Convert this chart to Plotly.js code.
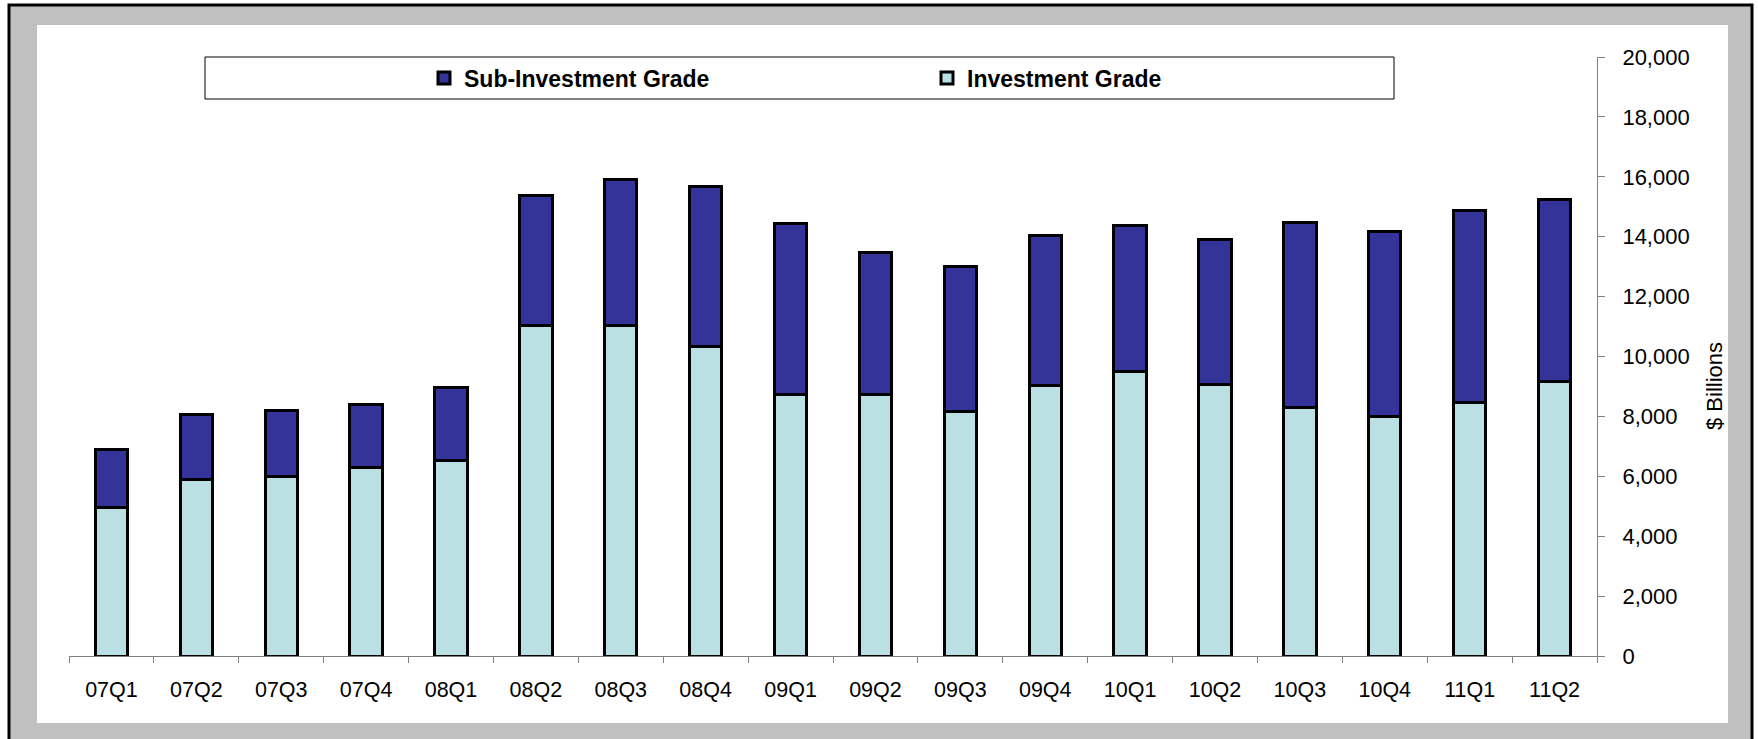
<!DOCTYPE html>
<html>
<head>
<meta charset="utf-8">
<script src="https://cdn.plot.ly/plotly-3.0.1.min.js"></script>
<style>
  html, body { margin: 0; padding: 0; background: #ffffff; }
  #chart { width: 1758px; height: 739px; }
</style>
</head>
<body>
<div id="chart"></div>
<script>
// ---- Data ($ Billions) ----
const quarters = ["07Q1","07Q2","07Q3","07Q4","08Q1","08Q2","08Q3","08Q4","09Q1","09Q2","09Q3","09Q4","10Q1","10Q2","10Q3","10Q4","11Q1","11Q2"];
const investmentGrade = [4970, 5900, 5990, 6290, 6540, 11020, 11050, 10350, 8740, 8740, 8170, 9030, 9490, 9050, 8300, 8010, 8460, 9160];
const subInvestmentGrade = [1910, 2180, 2220, 2120, 2430, 4370, 4870, 5340, 5690, 4730, 4830, 5020, 4890, 4840, 6190, 6170, 6430, 6080];
const seriesNames = ["Investment Grade", "Sub-Investment Grade"];
const yTitle = "$ Billions";

// ---- Layout geometry (pixels) ----
const W = 1758, H = 739;
const L = 69, R = 161, T = 57, B = 83;
const plotW = W - L - R, plotH = H - T - B;
const px = x => (x - L) / plotW;
const py = y => (H - B - y) / plotH;

const FONT = "Liberation Sans, Arial, sans-serif";

const traces = [
  {
    type: "bar", name: seriesNames[0], x: quarters, y: investmentGrade,
    marker: { color: "#bbe0e3", line: { color: "#000000", width: 3 } },
    hoverinfo: "x+y+name"
  },
  {
    type: "bar", name: seriesNames[1], x: quarters, y: subInvestmentGrade,
    marker: { color: "#333399", line: { color: "#000000", width: 3 } },
    hoverinfo: "x+y+name"
  }
];

const layout = {
  width: W, height: H,
  margin: { l: L, r: R, t: T, b: B, pad: 0 },
  paper_bgcolor: "#ffffff",
  plot_bgcolor: "rgba(0,0,0,0)",
  barmode: "stack",
  bargap: 0.62,
  font: { family: FONT, color: "#000000", size: 22 },
  showlegend: true,
  legend: {
    orientation: "h", traceorder: "reversed",
    x: px(424), xanchor: "left", y: py(78), yanchor: "middle",
    bgcolor: "rgba(0,0,0,0)", borderwidth: 0,
    itemwidth: 30, entrywidth: 458, entrywidthmode: "pixels",
    font: { family: FONT, size: 23, weight: "bold", color: "#000000" },
    itemclick: false, itemdoubleclick: false
  },
  xaxis: {
    type: "category",
    showline: true, linecolor: "#808080", linewidth: 1,
    ticks: "outside", tickson: "boundaries", ticklen: 6, tickcolor: "#808080", tickwidth: 1,
    showgrid: false, zeroline: false,
    tickfont: { family: FONT, size: 21.5, color: "#000000" },
    ticklabelstandoff: 14,
    fixedrange: true
  },
  yaxis: {
    side: "right",
    range: [0, 20000], dtick: 2000, tick0: 0, tickformat: ",d",
    showline: true, linecolor: "#808080", linewidth: 1,
    ticks: "outside", ticklen: 7, tickcolor: "#808080", tickwidth: 1,
    showgrid: false, zeroline: false,
    tickfont: { family: FONT, size: 22, color: "#000000" },
    ticklabelstandoff: 13,
    fixedrange: true
  },
  shapes: [
    // outer grey frame with black border
    { type: "rect", xref: "paper", yref: "paper", layer: "below",
      x0: px(9), x1: px(1752), y0: py(5), y1: py(760),
      fillcolor: "#c0c0c0", line: { color: "#000000", width: 3 } },
    // inner white chart area
    { type: "rect", xref: "paper", yref: "paper", layer: "below",
      x0: px(37), x1: px(1728), y0: py(25), y1: py(723),
      fillcolor: "#ffffff", line: { width: 0 } },
    // legend box
    { type: "rect", xref: "paper", yref: "paper", layer: "below",
      x0: px(205), x1: px(1394), y0: py(57), y1: py(99),
      fillcolor: "#ffffff", line: { color: "#000000", width: 1 } }
  ],
  annotations: [
    { text: yTitle, xref: "paper", yref: "paper", x: px(1714), y: py(386),
      xanchor: "center", yanchor: "middle", textangle: -90, showarrow: false,
      font: { family: FONT, size: 22, color: "#000000" } }
  ]
};

Plotly.newPlot("chart", traces, layout, { displayModeBar: false, staticPlot: false, responsive: false });
</script>
</body>
</html>
